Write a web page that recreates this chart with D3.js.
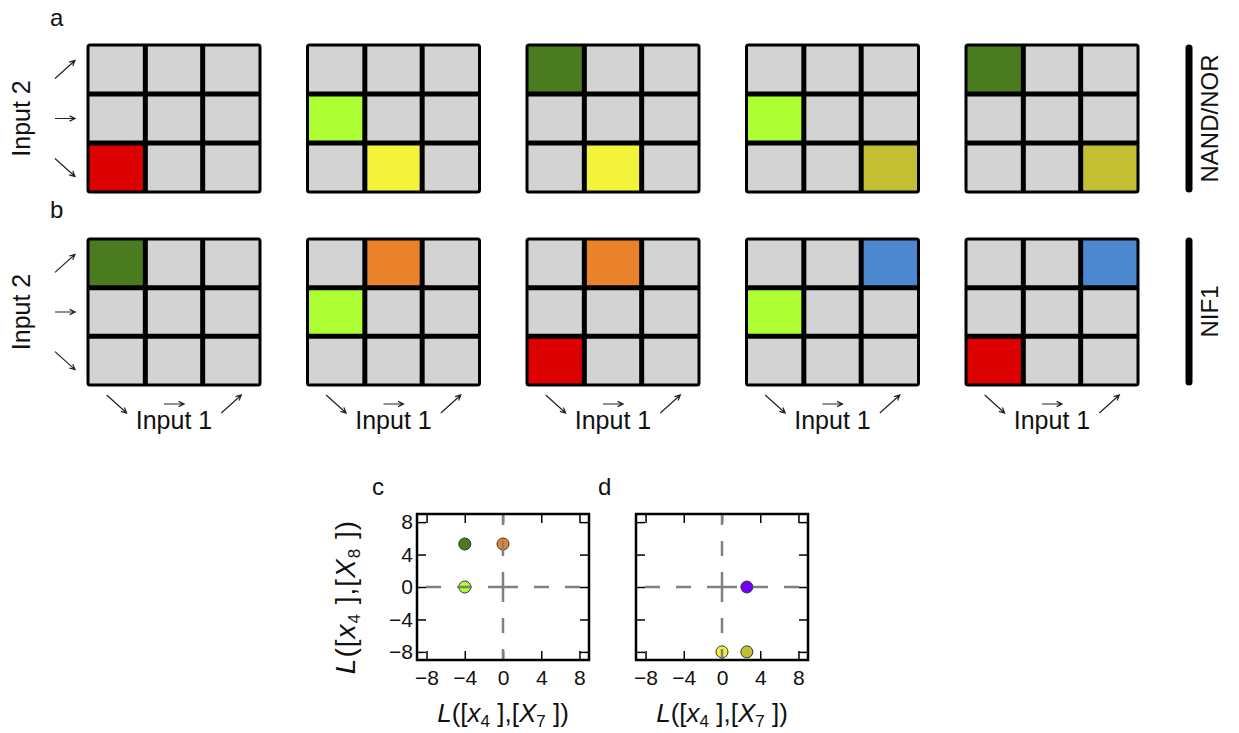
<!DOCTYPE html>
<html>
<head>
<meta charset="utf-8">
<script src="https://cdn.jsdelivr.net/npm/d3@7"></script>
<style>
  body { margin: 0; background: #fff; }
  text { font-family: "Liberation Sans", Arial, sans-serif; fill: #111; }
</style>
</head>
<body>
<svg id="canvas" width="1239" height="733"></svg>
<script>
// colours of the states
const stateColors = {
  red: "#dc0000",
  darkGreen: "#4a7b1e",
  lightGreen: "#adff34",
  yellow: "#f2f23a",
  olive: "#c3bf32",
  orange: "#e9822a",
  blue: "#4b88cf",
  purple: "#7300ff"
};

// input levels: 0 = down, 1 = flat, 2 = up
const levels = [0, 1, 2];

// lit cells [input1 level, input2 level, colour]
const panelsA = [
  [[0, 0, "red"]],
  [[0, 1, "lightGreen"], [1, 0, "yellow"]],
  [[0, 2, "darkGreen"], [1, 0, "yellow"]],
  [[0, 1, "lightGreen"], [2, 0, "olive"]],
  [[0, 2, "darkGreen"], [2, 0, "olive"]]
];
const panelsB = [
  [[0, 2, "darkGreen"]],
  [[1, 2, "orange"], [0, 1, "lightGreen"]],
  [[1, 2, "orange"], [0, 0, "red"]],
  [[2, 2, "blue"], [0, 1, "lightGreen"]],
  [[2, 2, "blue"], [0, 0, "red"]]
];

// scatter points
const cX = [-4, 0, -4];
const cY = [5.3, 5.3, 0];
const cColor = ["darkGreen", "orange", "lightGreen"];
const dX = [2.6, 0, 2.6];
const dY = [0, -8, -8];
const dColor = ["purple", "yellow", "olive"];
const scatterTicks = [-8, -4, 0, 4, 8];

const svg = d3.select("#canvas");

const panelX = d3.scalePoint().domain(d3.range(5)).range([88, 966]);
const gridW = 172;

// arrow for a level, centred at (cx, cy)
const arrowPath = (lvl, cx, cy) => {
  const h = 10;
  let x1, y1, x2, y2;
  if (lvl === 1) { x1 = cx - h; y1 = cy; x2 = cx + h; y2 = cy; }
  else if (lvl === 2) { x1 = cx - h; y1 = cy + h * 0.9; x2 = cx + h; y2 = cy - h * 0.9; }
  else { x1 = cx - h; y1 = cy - h * 0.9; x2 = cx + h; y2 = cy + h * 0.9; }
  const a = Math.atan2(y2 - y1, x2 - x1);
  const hl = 6, sp = 0.45;
  const p1 = [x2 - hl * Math.cos(a - sp), y2 - hl * Math.sin(a - sp)];
  const p2 = [x2 - hl * Math.cos(a + sp), y2 - hl * Math.sin(a + sp)];
  return `M${x1},${y1}L${x2},${y2}M${p1[0]},${p1[1]}L${x2},${y2}L${p2[0]},${p2[1]}`;
};

const drawGrids = (panels, top, height, withInput1) => {
  const col = d3.scaleBand().domain(levels).range([0, gridW]);
  const row = d3.scaleBand().domain(levels.slice().reverse()).range([0, height]);

  panels.forEach((cells, i) => {
    const g = svg.append("g").attr("transform", `translate(${panelX(i)},${top})`);
    const lit = {};
    cells.forEach((c) => { lit[c[0] + "-" + c[1]] = c[2]; });
    const all = [];
    levels.forEach((a) => levels.forEach((b) => all.push([a, b])));

    g.selectAll("rect.cell")
      .data(all)
      .enter()
      .append("rect")
      .attr("class", "cell")
      .attr("x", (d) => col(d[0]))
      .attr("y", (d) => row(d[1]))
      .attr("width", col.bandwidth() + 0.5)
      .attr("height", row.bandwidth() + 0.5)
      .attr("fill", (d) => {
        const k = lit[d[0] + "-" + d[1]];
        return k ? stateColors[k] : "#d3d3d3";
      });

    // inner lines
    [1, 2].forEach((lv) => {
      g.append("line")
        .attr("x1", col(lv)).attr("x2", col(lv))
        .attr("y1", 0).attr("y2", height)
        .attr("stroke", "#000").attr("stroke-width", 5);
      g.append("line")
        .attr("x1", 0).attr("x2", gridW)
        .attr("y1", row(lv - 1)).attr("y2", row(lv - 1))
        .attr("stroke", "#000").attr("stroke-width", 5);
    });
    g.append("rect")
      .attr("width", gridW).attr("height", height)
      .attr("rx", 2)
      .attr("fill", "none").attr("stroke", "#000").attr("stroke-width", 3);

    if (withInput1) {
      g.selectAll("path.in1")
        .data(levels)
        .enter()
        .append("path")
        .attr("class", "in1")
        .attr("d", (lv) => arrowPath(lv, col(lv) + col.bandwidth() / 2, height + 19))
        .attr("fill", "none").attr("stroke", "#222").attr("stroke-width", 1.2);
      g.append("text")
        .attr("x", gridW / 2).attr("y", height + 44)
        .attr("text-anchor", "middle")
        .style("font-size", "25px")
        .text("Input 1");
    }
  });

  // Input 2 arrows and label
  svg.selectAll(null)
    .data(levels)
    .enter()
    .append("path")
    .attr("d", (lv) => arrowPath(lv, 65, top + row(lv) + row.bandwidth() / 2))
    .attr("fill", "none").attr("stroke", "#222").attr("stroke-width", 1.2);
  svg.append("text")
    .attr("transform", `translate(30,${top + height / 2}) rotate(-90)`)
    .attr("text-anchor", "middle")
    .style("font-size", "25px")
    .text("Input 2");
};

drawGrids(panelsA, 45, 147, false);
drawGrids(panelsB, 239, 146, true);

svg.append("text").attr("x", 50).attr("y", 26).style("font-size", "24px").text("a");
svg.append("text").attr("x", 50).attr("y", 218).style("font-size", "24px").text("b");

// group labels on the right
const groups = [["NAND/NOR", 45, 192], ["NIF1", 238, 385]];
groups.forEach((gr) => {
  svg.append("line")
    .attr("x1", 1189).attr("x2", 1189)
    .attr("y1", gr[1] + 3).attr("y2", gr[2] - 3)
    .attr("stroke", "#000").attr("stroke-width", 7).attr("stroke-linecap", "round");
  svg.append("text")
    .attr("transform", `translate(1218,${(gr[1] + gr[2]) / 2}) rotate(-90)`)
    .attr("text-anchor", "middle")
    .style("font-size", "24px")
    .text(gr[0]);
});

// scatter panels
const sw = 172, sh = 146;
const sx = d3.scaleLinear().domain([-9, 9]).range([0, sw]);
const sy = d3.scaleLinear().domain([-9, 9]).range([sh, 0]);

const axisLabel = (sel, sub1, sub2) => {
  sel.append("tspan").style("font-style", "italic").text("L");
  sel.append("tspan").text("([");
  sel.append("tspan").style("font-style", "italic").text("x");
  sel.append("tspan").attr("dy", 5).style("font-size", "17px").text(sub1);
  sel.append("tspan").attr("dy", -5).text(" ],[");
  sel.append("tspan").style("font-style", "italic").text("X");
  sel.append("tspan").attr("dy", 5).style("font-size", "17px").text(sub2);
  sel.append("tspan").attr("dy", -5).text(" ])");
};

const drawScatter = (left, xs, ys, cols, letter, showY) => {
  const g = svg.append("g").attr("transform", `translate(${left},514)`);

  const tickAxes = [
    [d3.axisBottom(sx), `translate(0,${sh})`, true, 10],
    [d3.axisTop(sx), "translate(0,0)", false, 6],
    [d3.axisLeft(sy), "translate(0,0)", showY, 4],
    [d3.axisRight(sy), `translate(${sw},0)`, false, 6]
  ];
  tickAxes.forEach((t) => {
    const ax = g.append("g")
      .attr("transform", t[1])
      .call(t[0].tickValues(scatterTicks).tickSize(-9).tickPadding(t[3]));
    ax.attr("font-size", null).attr("font-family", null);
    ax.select(".domain").remove();
    ax.selectAll("line").attr("stroke", "#000").attr("stroke-width", 1.5);
    ax.selectAll("text")
      .style("font-size", "21px")
      .attr("fill", "#111");
    if (!t[2]) ax.selectAll("text").remove();
  });

  g.selectAll("circle")
    .data(xs.map((x, i) => [x, ys[i], cols[i]]))
    .enter()
    .append("circle")
    .attr("cx", (d) => sx(d[0]))
    .attr("cy", (d) => sy(d[1]))
    .attr("r", 6)
    .attr("fill", (d) => stateColors[d[2]])
    .attr("stroke", "#333")
    .attr("stroke-width", 1);

  // dashed zero lines, from the centre outwards
  const cx0 = sx(0), cy0 = sy(0);
  [[0, cy0], [sw, cy0], [cx0, 0], [cx0, sh]].forEach((end) => {
    g.append("line")
      .attr("x1", cx0).attr("y1", cy0)
      .attr("x2", end[0]).attr("y2", end[1])
      .attr("stroke", "#808080").attr("stroke-width", 2.5)
      .attr("stroke-dasharray", "15,16");
  });

  g.append("rect")
    .attr("width", sw).attr("height", sh)
    .attr("fill", "none").attr("stroke", "#000").attr("stroke-width", 2.5);

  g.append("text")
    .attr("x", sw / 2).attr("y", sh + 62)
    .attr("text-anchor", "middle")
    .style("font-size", "26px")
    .call(axisLabel, "4", "7");

  if (showY) {
    g.append("text")
      .attr("transform", `translate(-62,${sh / 2 + 10}) rotate(-90)`)
      .attr("text-anchor", "middle")
      .style("font-size", "28px")
      .style("letter-spacing", "1px")
      .call(axisLabel, "4", "8");
  }

  svg.append("text")
    .attr("x", letter === "c" ? 372 : 598)
    .attr("y", 495)
    .style("font-size", "24px")
    .text(letter);
};

drawScatter(417, cX, cY, cColor, "c", true);
drawScatter(636, dX, dY, dColor, "d", false);
</script>
</body>
</html>
